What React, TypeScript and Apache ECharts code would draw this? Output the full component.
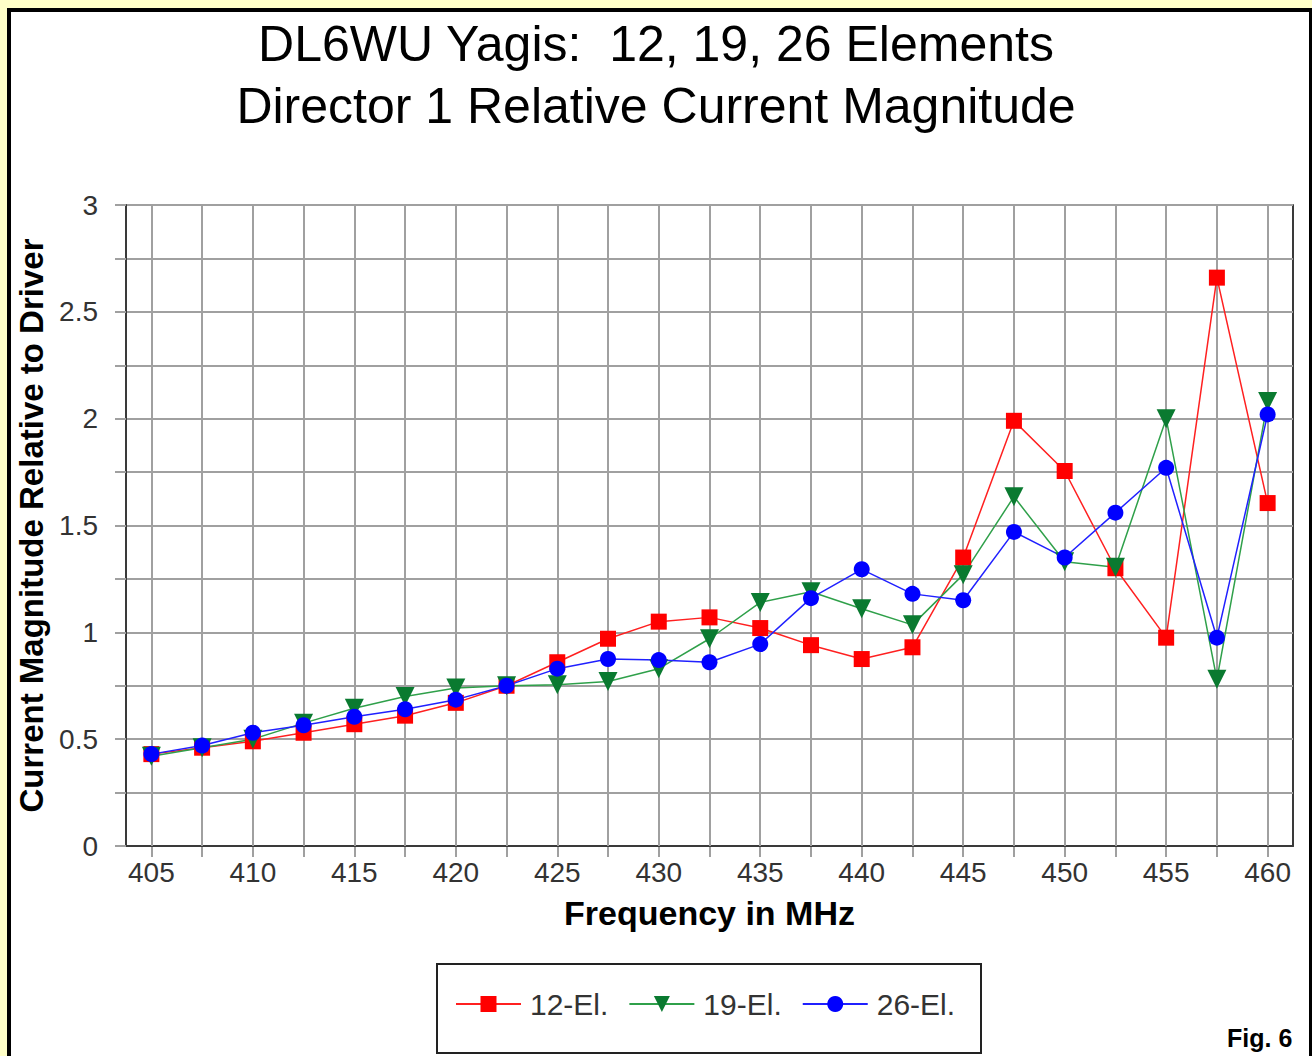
import React, { useEffect, useRef } from "react";
import * as echarts from "echarts";

const categories = ["405", "407.5", "410", "412.5", "415", "417.5", "420", "422.5", "425", "427.5", "430", "432.5", "435", "437.5", "440", "442.5", "445", "447.5", "450", "452.5", "455", "457.5", "460"];
const el12 = [0.43, 0.46, 0.49, 0.53, 0.57, 0.61, 0.67, 0.75, 0.86, 0.97, 1.05, 1.07, 1.02, 0.94, 0.875, 0.93, 1.35, 1.99, 1.755, 1.3, 0.975, 2.66, 1.605];
const el19 = [0.42, 0.46, 0.5, 0.575, 0.645, 0.7, 0.74, 0.75, 0.755, 0.77, 0.83, 0.97, 1.14, 1.19, 1.11, 1.035, 1.27, 1.635, 1.33, 1.305, 2.0, 0.78, 2.08];
const el26 = [0.43, 0.47, 0.53, 0.565, 0.605, 0.64, 0.685, 0.75, 0.83, 0.875, 0.87, 0.86, 0.945, 1.16, 1.295, 1.18, 1.15, 1.47, 1.35, 1.56, 1.77, 0.975, 2.02];
const seriesNames = ["12-El.", "19-El.", "26-El."];
const titleLines = ["DL6WU Yagis:  12, 19, 26 Elements", "Director 1 Relative Current Magnitude"];
const xName = "Frequency in MHz";
const yName = "Current Magnitude Relative to Driver";

const FONT = '"Liberation Sans", Arial, sans-serif';
const GRID = "#a0a0a0";
const AXIS = "#3a3a3a";

export default function App() {
  const ref = useRef<HTMLDivElement>(null);
  useEffect(() => {
    const chart = echarts.init(ref.current as HTMLDivElement, null, { renderer: "svg" });
    const mkSeries = (name: string, data: number[], symbol: string, size: number, lineColor: string, markColor: string, rotate = 0) => ({
      name,
      type: "line",
      data,
      symbol,
      symbolSize: size,
      symbolRotate: rotate,
      showAllSymbol: true,
      lineStyle: { color: lineColor, width: 1.5 },
      itemStyle: { color: markColor },
      emphasis: { disabled: true },
    });
    chart.setOption({
      animation: false,
      backgroundColor: "transparent",
      textStyle: { fontFamily: FONT },
      title: [
        {
          text: titleLines.join("\n"),
          left: "center",
          top: 8,
          textStyle: { fontFamily: FONT, fontSize: 50, fontWeight: "normal", lineHeight: 62, color: "#000" },
        },
        {
          text: "Fig. 6",
          left: 1222,
          top: 1020,
          textStyle: { fontFamily: FONT, fontSize: 25, fontWeight: "bold", color: "#000" },
        },
      ],
      legend: {
        left: 455,
        top: 989,
        padding: 0,
        itemWidth: 65,
        itemHeight: 20,
        itemGap: 20,
        data: seriesNames,
        textStyle: { fontFamily: FONT, fontSize: 30, color: "#333", padding: [0, 0, 0, 4] },
      },
      grid: { left: 126, top: 205, width: 1167, height: 641, containLabel: false },
      xAxis: [
        {
          type: "category",
          data: categories,
          boundaryGap: true,
          name: xName,
          nameLocation: "middle",
          nameGap: 50,
          nameTextStyle: { fontFamily: FONT, fontSize: 34, fontWeight: "bold", color: "#000" },
          axisLine: { show: true, lineStyle: { color: AXIS, width: 2 } },
          axisTick: { show: true, alignWithLabel: true, interval: 0, inside: true, length: 641, lineStyle: { color: GRID, width: 2 } },
          axisLabel: { interval: 1, fontFamily: FONT, fontSize: 28, color: "#333", margin: 12 },
          splitLine: { show: false },
          z: 1,
        },
        {
          type: "category",
          data: categories,
          boundaryGap: true,
          position: "bottom",
          axisLine: { show: false },
          axisTick: { show: true, alignWithLabel: true, interval: 0, length: 11, lineStyle: { color: GRID, width: 2 } },
          axisLabel: { show: false },
          splitLine: { show: false },
        },
      ],
      yAxis: [
        {
          type: "value",
          min: 0,
          max: 3,
          interval: 0.25,
          name: yName,
          nameLocation: "middle",
          nameGap: 71,
          nameTextStyle: { fontFamily: FONT, fontSize: 33, fontWeight: "bold", color: "#000" },
          axisLine: { show: true, lineStyle: { color: AXIS, width: 2 } },
          axisTick: { show: true, length: 11, lineStyle: { color: GRID, width: 2 } },
          axisLabel: {
            fontFamily: FONT,
            fontSize: 28,
            color: "#333",
            margin: 28,
            formatter: (v: number) => (Math.round(v * 4) % 2 === 0 ? String(v) : ""),
          },
          splitLine: { show: true, lineStyle: { color: GRID, width: 2 } },
          z: 1,
        },
        {
          type: "value",
          min: 0,
          max: 3,
          position: "right",
          axisLine: { show: true, lineStyle: { color: AXIS, width: 2 } },
          axisTick: { show: false },
          axisLabel: { show: false },
          splitLine: { show: false },
        },
      ],
      series: [
        mkSeries(seriesNames[0], el12, "rect", 16, "#ff2020", "#ff0000"),
        mkSeries(seriesNames[1], el19, "triangle", 19, "#2fa04a", "#0a7a30", 180),
        mkSeries(seriesNames[2], el26, "circle", 16, "#2020ff", "#0000ff"),
      ],
    });
    return () => chart.dispose();
  }, []);

  return (
    <div style={{ position: "absolute", left: 0, top: 0, width: 1312, height: 1056, background: "#FFFFC8", overflow: "hidden" }}>
      <div
        style={{
          position: "absolute",
          left: 7,
          top: 8,
          width: 1306,
          height: 1100,
          border: "4px solid #000",
          boxSizing: "border-box",
          background: "#fff",
        }}
      />
      <div
        style={{
          position: "absolute",
          left: 436,
          top: 963,
          width: 546,
          height: 91,
          border: "2px solid #222",
          boxSizing: "border-box",
          background: "#fff",
        }}
      />
      <div ref={ref} style={{ position: "absolute", left: 0, top: 0, width: 1312, height: 1056 }} />
    </div>
  );
}
